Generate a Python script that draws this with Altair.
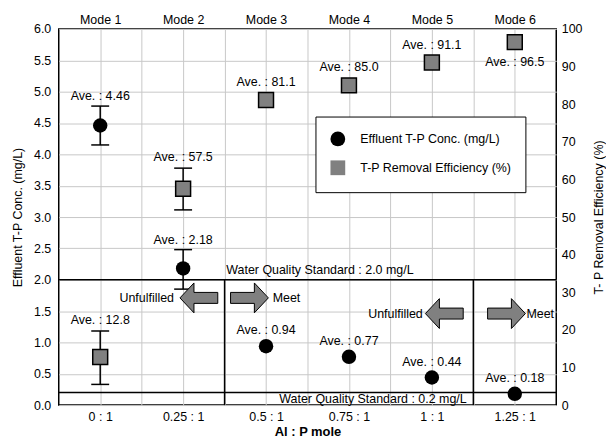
import json
import altair as alt
import pandas as pd

# ---------------- data ----------------
ratios = ["0 : 1", "0.25 : 1", "0.5 : 1", "0.75 : 1", "1 : 1", "1.25 : 1"]
modes = ["Mode 1", "Mode 2", "Mode 3", "Mode 4", "Mode 5", "Mode 6"]
conc = [4.46, 2.18, 0.94, 0.77, 0.44, 0.18]          # effluent T-P (mg/L)
conc_lo = [4.15, 1.85, None, None, None, None]
conc_hi = [4.77, 2.48, None, None, None, None]
eff = [12.8, 57.5, 81.1, 85.0, 91.1, 96.5]           # removal efficiency (%)
eff_lo = [5.5, 51.9, None, None, None, None]
eff_hi = [19.7, 63.0, None, None, None, None]
conc_label_place = ["err", "err", "mark", "mark", "mark", "mark"]
eff_label_place = ["err", "err", "mark", "mark", "mark", "below"]

S_CONC = "Effluent T-P Conc. (mg/L)"
S_EFF = "T-P Removal Efficiency (%)"

std_values = [2.0, 0.2]
std_texts = ["Water Quality Standard : 2.0 mg/L", "Water Quality Standard : 0.2 mg/L"]
std_text_x = [2.65, 3.29]
std_text_side = ["above", "below"]

boundary_after = ["0.25 : 1", "1 : 1"]   # meet/unfulfilled split after these ratios
boundary_top = [2.0, 2.0]

arrow_x = [1.19, 1.80, 4.15, 4.90]
arrow_y = [1.71, 1.71, 1.46, 1.46]
arrow_dir = ["left", "right", "left", "right"]
arrow_text = ["Unfulfilled", "Meet", "Unfulfilled", "Meet"]
arrow_text_x = [0.89, 2.08, 3.89, 5.14]

# ---------------- tables ----------------
idx = list(range(len(ratios)))
cdf = pd.DataFrame({"x": idx, "v": conc, "lo": conc_lo, "hi": conc_hi,
                    "place": conc_label_place, "series": S_CONC,
                    "label": [f"Ave. : {v:.2f}" for v in conc]})
cdf["anchor"] = [h if p == "err" else v for v, h, p in zip(conc, conc_hi, conc_label_place)]
edf = pd.DataFrame({"x": idx, "v": eff, "lo": eff_lo, "hi": eff_hi,
                    "place": eff_label_place, "series": S_EFF,
                    "label": [f"Ave. : {v:.1f}" for v in eff]})
edf["anchor"] = [h if p == "err" else v for v, h, p in zip(eff, eff_hi, eff_label_place)]

std_df = pd.DataFrame({"y": std_values, "text": std_texts, "tx": std_text_x, "side": std_text_side})
bnd_df = pd.DataFrame({"x": [ratios.index(r) + 0.5 for r in boundary_after],
                       "y0": [0.0] * len(boundary_after), "y1": boundary_top})
arr_df = pd.DataFrame({"x": arrow_x, "y": arrow_y, "dir": arrow_dir,
                       "text": arrow_text, "tx": arrow_text_x})

# ---------------- styling ----------------
FONT = "Liberation Sans"
FS = 12.5
GRID = "#c8c8c8"
GRAY = "#808080"
LEFT_ARROW = "M-1,0L-0.26,-0.79L-0.26,-0.29L1,-0.29L1,0.29L-0.26,0.29L-0.26,0.79Z"
RIGHT_ARROW = "M1,0L0.26,-0.79L0.26,-0.29L-1,-0.29L-1,0.29L0.26,0.29L0.26,0.79Z"

xscale = alt.Scale(domain=[-0.5, len(ratios) - 0.5], nice=False, zero=False)
ratio_expr = "[" + ",".join(json.dumps(r) for r in ratios) + "]"
mode_expr = "[" + ",".join(json.dumps(m) for m in modes) + "]"

bottom_axis = alt.Axis(values=[i * 0.5 for i in range(2 * len(ratios) - 1)],
                       labelExpr=f"datum.value % 1 == 0 ? {ratio_expr}[datum.value] : ''",
                       grid=True, gridColor=GRID, ticks=False, domain=False,
                       labelPadding=5, labelFontSize=FS, title="Al : P mole",
                       titleFontWeight="bold", titleFontSize=13, titlePadding=3)
top_axis = alt.Axis(orient="top", values=idx, labelExpr=f"{mode_expr}[datum.value]",
                    grid=False, ticks=False, domain=False, labelPadding=3,
                    labelFontSize=FS, title=None)
left_axis = alt.Axis(values=[i * 0.5 for i in range(13)], format=".1f", grid=True,
                     gridColor=GRID, ticks=False, domain=False, labelPadding=8,
                     labelFontSize=FS, title=S_CONC, titlePadding=9, titleFontSize=12.5)
right_axis = alt.Axis(orient="right", values=list(range(0, 101, 10)), grid=False,
                      ticks=False, domain=False, labelPadding=5, labelFontSize=FS,
                      title="T- P Removal Efficiency (%)", titleFontSize=12.5,
                      titleAngle=270, titleBaseline="top", titlePadding=11)

XB = alt.X("x:Q", scale=xscale, axis=bottom_axis)
XT = alt.X("x:Q", scale=xscale, axis=top_axis)
yl_scale = alt.Scale(domain=[0, 6], nice=False, zero=False)
yr_scale = alt.Scale(domain=[0, 100], nice=False, zero=False)

legend = alt.Legend(title=None, orient="none", legendX=258, legendY=88,
                    fillColor="white", strokeColor="black", padding=14,
                    rowPadding=8, labelOffset=14, symbolSize=220,
                    labelFontSize=FS, labelFont=FONT, labelColor="black",
                    symbolStrokeColor="black", symbolStrokeWidth=1.2)
fill_enc = alt.Fill("series:N", scale=alt.Scale(domain=[S_CONC, S_EFF], range=["black", GRAY]),
                    legend=legend)
shape_enc = alt.Shape("series:N", scale=alt.Scale(domain=[S_CONC, S_EFF], range=["circle", "square"]),
                      legend=legend)

def yl(field):
    return alt.Y(field, scale=yl_scale, axis=left_axis)

def yr(field):
    return alt.Y(field, scale=yr_scale, axis=right_axis)

XTX = alt.X("tx:Q", scale=xscale, axis=bottom_axis)

# ---------------- left (concentration) group ----------------
std_rules = alt.Chart(std_df).mark_rule(color="black", strokeWidth=1.5).encode(y=yl("y:Q"))
std_above = alt.Chart(std_df).transform_filter("datum.side == 'above'").mark_text(
    baseline="bottom", dy=-3, fontSize=FS).encode(x=XTX, y=yl("y:Q"), text="text:N")
std_below = alt.Chart(std_df).transform_filter("datum.side == 'below'").mark_text(
    baseline="middle", dy=7, fontSize=FS).encode(x=XTX, y=yl("y:Q"), text="text:N")
bnd_rules = alt.Chart(bnd_df).mark_rule(color="black", strokeWidth=1.5).encode(
    x=XB, y=yl("y0:Q"), y2="y1:Q")

c_err = alt.Chart(cdf).transform_filter("isValid(datum.lo)")
c_rule = c_err.mark_rule(color="black", strokeWidth=1.5).encode(x=XB, y=yl("lo:Q"), y2="hi:Q")
c_cap_lo = c_err.mark_tick(orient="horizontal", size=18, thickness=1.5, color="black",
                           opacity=1).encode(x=XB, y=yl("lo:Q"))
c_cap_hi = c_err.mark_tick(orient="horizontal", size=18, thickness=1.5, color="black",
                           opacity=1).encode(x=XB, y=yl("hi:Q"))
c_pts = alt.Chart(cdf).mark_point(filled=True, size=210, opacity=1, strokeWidth=0).encode(
    x=XB, y=yl("v:Q"), fill=fill_enc, shape=shape_enc)
c_lab_err = alt.Chart(cdf).transform_filter("datum.place == 'err'").mark_text(
    dy=-10, fontSize=FS).encode(x=XB, y=yl("anchor:Q"), text="label:N")
c_lab_mark = alt.Chart(cdf).transform_filter("datum.place == 'mark'").mark_text(
    dy=-16, fontSize=FS).encode(x=XB, y=yl("anchor:Q"), text="label:N")

arr_l = alt.Chart(arr_df).transform_filter("datum.dir == 'left'").mark_point(
    shape=LEFT_ARROW, filled=True, fill=GRAY, stroke="black", strokeWidth=1,
    size=1444, opacity=1).encode(x=XB, y=yl("y:Q"))
arr_r = alt.Chart(arr_df).transform_filter("datum.dir == 'right'").mark_point(
    shape=RIGHT_ARROW, filled=True, fill=GRAY, stroke="black", strokeWidth=1,
    size=1444, opacity=1).encode(x=XB, y=yl("y:Q"))
arr_t_l = alt.Chart(arr_df).transform_filter("datum.dir == 'left'").mark_text(
    align="right", baseline="middle", fontSize=FS).encode(x=XTX, y=yl("y:Q"), text="text:N")
arr_t_r = alt.Chart(arr_df).transform_filter("datum.dir == 'right'").mark_text(
    align="left", baseline="middle", fontSize=FS).encode(x=XTX, y=yl("y:Q"), text="text:N")

left_group = alt.layer(std_rules, bnd_rules, std_above, std_below, c_rule, c_cap_lo,
                       c_cap_hi, arr_l, arr_r, arr_t_l, arr_t_r, c_pts, c_lab_err, c_lab_mark)

# ---------------- right (efficiency) group ----------------
e_err = alt.Chart(edf).transform_filter("isValid(datum.lo)")
e_rule = e_err.mark_rule(color="black", strokeWidth=1.5).encode(x=XT, y=yr("lo:Q"), y2="hi:Q")
e_cap_lo = e_err.mark_tick(orient="horizontal", size=18, thickness=1.5, color="black",
                           opacity=1).encode(x=XT, y=yr("lo:Q"))
e_cap_hi = e_err.mark_tick(orient="horizontal", size=18, thickness=1.5, color="black",
                           opacity=1).encode(x=XT, y=yr("hi:Q"))
e_pts = alt.Chart(edf).mark_point(filled=True, size=225, opacity=1, stroke="black",
                                  strokeWidth=1.5).encode(
    x=XT, y=yr("v:Q"), fill=fill_enc, shape=shape_enc)
e_lab_err = alt.Chart(edf).transform_filter("datum.place == 'err'").mark_text(
    dy=-11, fontSize=FS).encode(x=XT, y=yr("anchor:Q"), text="label:N")
e_lab_mark = alt.Chart(edf).transform_filter("datum.place == 'mark'").mark_text(
    dy=-18, fontSize=FS).encode(x=XT, y=yr("anchor:Q"), text="label:N")
e_lab_below = alt.Chart(edf).transform_filter("datum.place == 'below'").mark_text(
    dy=20, fontSize=FS).encode(x=XT, y=yr("anchor:Q"), text="label:N")

right_group = alt.layer(e_rule, e_cap_lo, e_cap_hi, e_pts, e_lab_err, e_lab_mark, e_lab_below)

chart = alt.layer(left_group, right_group).resolve_scale(y="independent").resolve_axis(
    x="independent", y="independent"
).properties(
    width=500, height=378,
    padding={"left": 3, "top": 4, "right": 0, "bottom": 0},
    background="white",
).configure_view(stroke="black", strokeWidth=1.5).configure_axis(
    labelFont=FONT, titleFont=FONT, labelColor="black", titleColor="black",
    titleFontWeight="normal"
).configure_text(font=FONT, color="black")

chart.save("out.html", embed_options={"renderer": "svg", "actions": False})
